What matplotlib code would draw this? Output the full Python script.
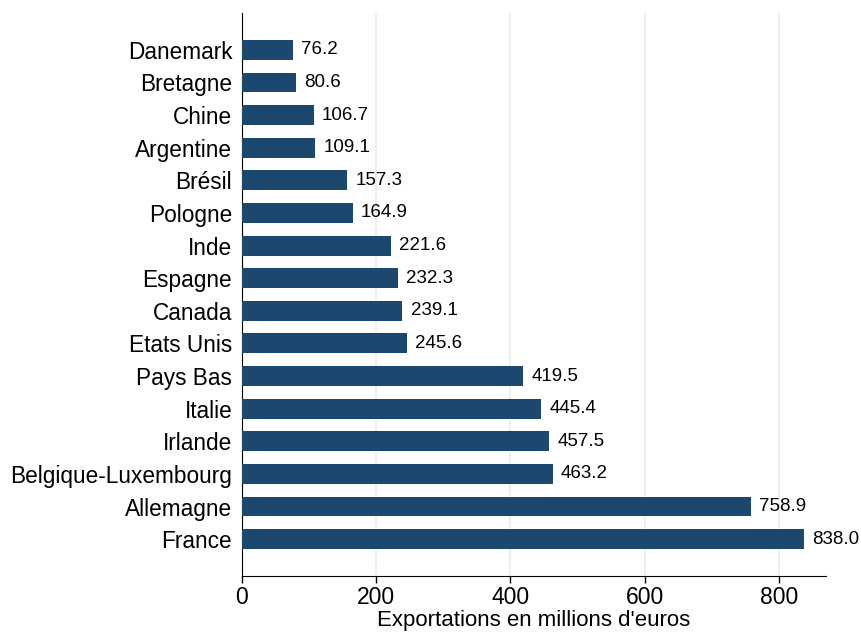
import numpy as np
import matplotlib
matplotlib.use('Agg')
import matplotlib.pyplot as plt

pays = ['France', 'Allemagne', 'Belgique-Luxembourg', 'Irlande', 'Italie', 'Pays Bas',
        'Etats Unis', 'Canada', 'Espagne', 'Inde', 'Pologne', 'Brésil',
        'Argentine', 'Chine', 'Bretagne', 'Danemark']
exports = [838.0, 758.9, 463.2, 457.5, 445.4, 419.5,
           245.6, 239.1, 232.3, 221.6, 164.9, 157.3,
           109.1, 106.7, 80.6, 76.2]
xticks = [0, 200, 400, 600, 800]

plt.rcParams['font.family'] = ['Liberation Sans', 'DejaVu Sans']

fig = plt.figure(figsize=(8.61, 6.34), dpi=100)
ax = fig.add_axes([0.281, 0.0915, 0.678, 0.888])

y = np.arange(len(pays))
ax.barh(y, exports, height=0.61, color='#1c4870', zorder=3)
for yi, v in zip(y, exports):
    ax.annotate('%.1f' % v, (v, yi), xytext=(6, 0), textcoords='offset points',
                va='center', ha='left', fontsize=13.5)

ax.set_yticks(y)
ax.set_yticklabels(pays, fontsize=16.3)
ax.set_xticks(xticks)
ax.set_xticklabels([str(t) for t in xticks], fontsize=16.5)
ax.set_xlim(0, 870)
ax.set_ylim(-1.13, len(pays) - 1 + 1.13)
ax.set_xlabel("Exportations en millions d'euros", fontsize=16, labelpad=1)

ax.grid(axis='x', color='#e6ecf0', linewidth=1.2, zorder=0)
ax.tick_params(axis='y', length=0, pad=7)
ax.tick_params(axis='x', length=5, width=1, pad=2)
ax.spines['top'].set_visible(False)
ax.spines['right'].set_visible(False)

fig.savefig('out.png', dpi=100)
